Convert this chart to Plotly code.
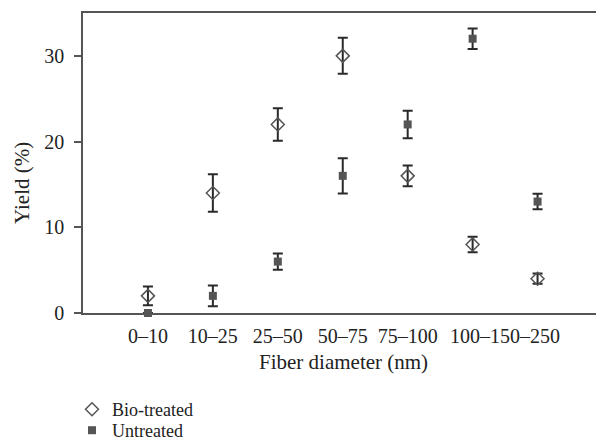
import plotly.graph_objects as go

categories = ["0–10", "10–25", "25–50", "50–75", "75–100", "100–150", "150–250"]
bio_treated = [2, 14, 22, 30, 16, 8, 4]
bio_err = [1.1, 2.2, 1.9, 2.1, 1.2, 0.9, 0.6]
untreated = [0, 2, 6, 16, 22, 32, 13]
untreated_err = [0, 1.2, 0.95, 2.05, 1.6, 1.2, 0.9]

tick_vals = [0, 1, 2, 3, 4, 5.5]
tick_labels = ["0–10", "10–25", "25–50", "50–75", "75–100", "100–150–250"]
y_ticks = [0, 10, 20, 30]

x_idx = list(range(len(categories)))
FONT = "Liberation Serif"

fig = go.Figure()
fig.add_trace(go.Scatter(
    x=x_idx, y=bio_treated, mode="markers", name="Bio-treated",
    customdata=categories, legend="legend",
    marker=dict(symbol="diamond-open", size=10, color="#555555", line=dict(width=1.5, color="#555555")),
    error_y=dict(type="data", array=bio_err, visible=True, color="#2a2a2a", thickness=2, width=5),
    cliponaxis=False,
))
fig.add_trace(go.Scatter(
    x=x_idx, y=untreated, mode="markers", name="Untreated",
    customdata=categories, legend="legend2",
    marker=dict(symbol="square", size=8, color="#555555", line=dict(width=0)),
    error_y=dict(type="data", array=untreated_err, visible=True, color="#2a2a2a", thickness=2, width=5),
    cliponaxis=False,
))

legend_common = dict(
    xanchor="left", yanchor="top",
    font=dict(family=FONT, size=18, color="#222222"),
    bgcolor="rgba(0,0,0,0)", itemsizing="trace",
)

fig.update_layout(
    width=596, height=444,
    margin=dict(l=83, r=0, t=13, b=131, autoexpand=False),
    paper_bgcolor="white", plot_bgcolor="white",
    font=dict(family=FONT, size=20, color="#222222"),
    showlegend=True,
    legend=dict(x=(72 - 83) / 513, y=(313 - 391) / 300, **legend_common),
    legend2=dict(x=(72 - 83) / 513, y=(313 - 412) / 300, **legend_common),
    xaxis=dict(
        range=[-1, 6.9], tickmode="array", tickvals=tick_vals, ticktext=tick_labels,
        showgrid=False, zeroline=False, showline=True, linecolor="#555555", linewidth=1.5,
        mirror=True, ticks="", tickfont=dict(family=FONT, size=20, color="#222222"),
        ticklabelstandoff=4,
    ),
    yaxis=dict(
        range=[0, 35], tickmode="array", tickvals=y_ticks,
        showgrid=False, zeroline=False, showline=True, linecolor="#555555", linewidth=1.5,
        ticks="outside", ticklen=7, tickcolor="#555555", tickwidth=1.5,
        tickfont=dict(family=FONT, size=20, color="#222222"), ticklabelstandoff=6,
    ),
    annotations=[
        dict(text="Yield (%)", xref="paper", yref="paper", x=(22 - 83) / 513, y=(313 - 183) / 300,
             textangle=-90, showarrow=False, xanchor="center", yanchor="middle",
             font=dict(family=FONT, size=21, color="#222222")),
        dict(text="Fiber diameter (nm)", xref="paper", yref="paper", x=(343 - 83) / 513, y=(313 - 362) / 300,
             showarrow=False, xanchor="center", yanchor="middle",
             font=dict(family=FONT, size=21, color="#222222")),
    ],
)

fig.write_html("out.html")
